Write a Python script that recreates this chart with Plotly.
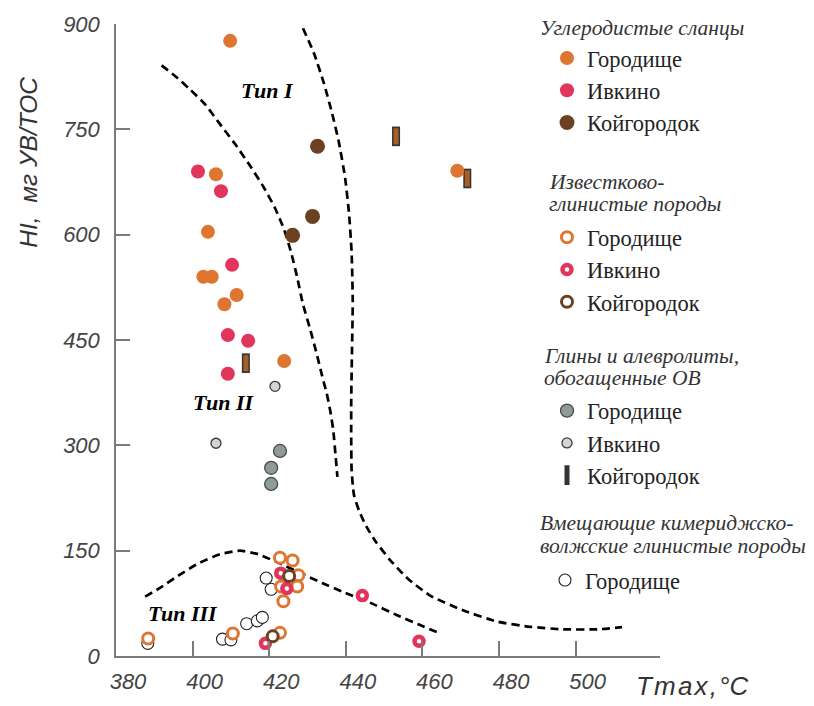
import plotly.graph_objects as go

# ---------------- data (Tmax, °C ; HI, mg HC/g TOC) ----------------
# Углеродистые сланцы
shale_gor_x = [409.8, 406.1, 404.0, 402.8, 405.0, 411.5, 408.3, 423.9, 469.1]
shale_gor_y = [876, 686, 604, 540, 540, 514, 501, 420, 691]
shale_ivk_x = [401.4, 407.4, 410.3, 409.2, 414.5, 409.2]
shale_ivk_y = [690, 662, 557, 457, 449, 402]
shale_koy_x = [432.6, 431.3, 426.1]
shale_koy_y = [726, 626, 599]

# Известково-глинистые породы
calc_gor_x = [388.4, 410.5, 422.8, 422.8, 426.1, 427.6, 423.1, 427.3, 423.7]
calc_gor_y = [25, 32, 33, 140, 136, 115, 99, 99, 78]
calc_ivk_x = [419.0, 423.0, 424.6, 444.3, 459.1]
calc_ivk_y = [18, 118, 96, 86, 21]
calc_koy_x = [420.9, 425.2]
calc_koy_y = [28, 114]

# Глины и алевролиты, обогащенные ОВ
clay_gor_x = [422.8, 420.5, 420.5]
clay_gor_y = [292, 268, 245]
clay_ivk_x = [421.5, 406.1]
clay_ivk_y = [384, 303]
clay_koy_x = [413.9, 453.1, 471.7]
clay_koy_y = [417, 740, 680]

# Вмещающие кимериджско-волжские глинистые породы
host_gor_x = [388.3, 407.8, 410.0, 414.1, 416.9, 418.2, 419.2, 420.5]
host_gor_y = [18, 24, 23, 46, 50, 55, 111, 95]

# Boundary curves of kerogen types
curveA_x = [391.9, 395.4, 399.3, 403.2, 407.2, 411.1, 415.0, 418.4, 421.5, 423.9, 425.7,
            427.3, 428.8, 430.7, 432.4, 433.8, 435.0, 435.9, 436.7, 437.3, 437.8]
curveA_y = [841, 826, 807, 786, 757, 729, 698, 669, 638, 607, 575,
            539, 501, 465, 430, 399, 374, 350, 322, 286, 255]
curveB_x = [428.8, 431.7, 434.3, 436.4, 438.2, 439.8, 440.8, 441.5, 441.8, 441.6, 441.4,
            441.4, 441.5, 442.1, 443.5, 445.3, 447.9, 451.5, 456.2, 462.0, 470.6,
            479.5, 488.1, 496.7, 505.6, 512.1]
curveB_y = [894, 858, 815, 773, 731, 681, 632, 575, 505, 434, 364,
            307, 265, 230, 206, 185, 162, 137, 110, 86, 65,
            49, 41.6, 38, 38, 41]
curveC_x = [387.6, 391.5, 396.7, 401.9, 407.2, 412.4, 417.1, 422.3, 428.0, 433.8,
            439.8, 446.3, 453.4, 459.4, 463.8]
curveC_y = [84.6, 97, 116, 133, 145, 150, 145, 133, 118.5, 104,
            90, 76, 58, 44, 34]

type_labels = ["<b><i>Тип I</i></b>", "<b><i>Тип II</i></b>", "<b><i>Тип III</i></b>"]
type_x = [419.6, 408.1, 397.4]
type_y = [805, 361, 60]

x_ticks = [380, 400, 420, 440, 460, 480, 500]
y_ticks = [0, 150, 300, 450, 600, 750, 900]

group_titles = ["Углеродистые сланцы", "Известково-", "глинистые породы",
                "Глины и алевролиты,", "обогащенные ОВ",
                "Вмещающие кимериджско-", "волжские глинистые породы"]

# ---------------- styles ----------------
ORANGE = "#DE7632"
PINK = "#E2355C"
BROWN = "#6B4122"
SANS = "Liberation Sans"
SERIF = "Liberation Serif"

fig = go.Figure()

dash_line = dict(color="black", width=2.7, dash="8px,5px", shape="spline", smoothing=0.5)
for cx, cy in [(curveA_x, curveA_y), (curveB_x, curveB_y), (curveC_x, curveC_y)]:
    fig.add_trace(go.Scatter(x=cx, y=cy, mode="lines", line=dash_line,
                             showlegend=False, hoverinfo="skip"))

def pts(x, y, name, legend, marker, showlegend=True):
    fig.add_trace(go.Scatter(x=x, y=y, mode="markers", name=name, legend=legend,
                             marker=marker, showlegend=showlegend, cliponaxis=False))

# host rocks (drawn first, underneath)
pts(host_gor_x, host_gor_y, "Городище", "legend4",
    dict(symbol="circle", size=12, color="white", line=dict(color="#222", width=1.1)))

# calcareous-clay rocks
pts(calc_gor_x, calc_gor_y, "Городище", "legend2",
    dict(symbol="circle", size=11, color="white", line=dict(color=ORANGE, width=3)))
pts(calc_ivk_x, calc_ivk_y, "Ивкино", "legend2",
    dict(symbol="circle", size=9, color="white", line=dict(color=PINK, width=4.5)))
pts(calc_koy_x, calc_koy_y, "Койгородок", "legend2",
    dict(symbol="circle", size=11, color="white", line=dict(color=BROWN, width=3)))

# clays and siltstones
pts(clay_gor_x, clay_gor_y, "Городище", "legend3",
    dict(symbol="circle", size=13, color="#8E9B99", line=dict(color="#4A4A4A", width=1.3)))
pts(clay_ivk_x, clay_ivk_y, "Ивкино", "legend3",
    dict(symbol="circle", size=10, color="#D4D4D4", line=dict(color="#3A3A3A", width=1.3)))
pts(clay_koy_x, clay_koy_y, "Койгородок", "legend3",
    dict(symbol="line-ns-open", size=14, color="#333333", line=dict(color="#333333", width=8)))
pts(clay_koy_x, clay_koy_y, "Койгородок", "legend3",
    dict(symbol="line-ns-open", size=11.5, color="#A95E28", line=dict(color="#A95E28", width=5)),
    showlegend=False)

# carbonaceous shales
pts(shale_gor_x, shale_gor_y, "Городище", "legend",
    dict(symbol="circle", size=14, color=ORANGE, line=dict(width=0)))
pts(shale_ivk_x, shale_ivk_y, "Ивкино", "legend",
    dict(symbol="circle", size=14, color=PINK, line=dict(width=0)))
pts(shale_koy_x, shale_koy_y, "Койгородок", "legend",
    dict(symbol="circle", size=15, color=BROWN, line=dict(width=0)))

for t, x, y in zip(type_labels, type_x, type_y):
    fig.add_annotation(x=x, y=y, xref="x", yref="y", text=t, showarrow=False,
                       font=dict(family=SERIF, size=22, color="black"))

L, T, PW, PH = 116, 20, 544, 638

def px2paper(px, py):
    return (px - L) / PW, (T + PH - py) / PH

# axis titles
ax_x, ax_y = px2paper(29, 160)
fig.add_annotation(x=ax_x, y=ax_y, xref="paper", yref="paper", xanchor="center", yanchor="middle",
                   text="<i>HI,\u00a0 мг УВ/ТОС</i>", textangle=-90, showarrow=False,
                   font=dict(family=SANS, size=24.5, color="#333"))
tx_x, tx_y = px2paper(692, 688)
fig.add_annotation(x=tx_x, y=tx_y, xref="paper", yref="paper", xanchor="center", yanchor="middle",
                   text="<i>T\u200am\u200aa\u200ax\u200a,\u200a°C</i>", showarrow=False,
                   font=dict(family=SANS, size=26, color="#333"))

# legend group titles
title_pos = [(538, 24), (547, 180), (547, 202), (542, 355), (542, 377), (538, 524), (538, 547)]
for t, (px, py) in zip(group_titles, title_pos):
    gx, gy = px2paper(px, py)
    fig.add_annotation(x=gx, y=gy, xref="paper", yref="paper", xanchor="left", yanchor="middle",
                       text="<i>" + t + "</i>", showarrow=False,
                       font=dict(family=SERIF, size=21.5, color="#333"))

axis_common = dict(showline=True, linecolor="#7A7A7A", linewidth=1.5, ticks="inside",
                   tickcolor="#7A7A7A", tickwidth=1.5, showgrid=False, zeroline=False,
                   tickfont=dict(family=SANS, size=22, color="#444", style="italic"))

fig.update_xaxes(range=[380, 522], tickvals=x_ticks, ticklen=15, ticklabelshift=12,
                 ticklabelstandoff=5, **axis_common)
fig.update_yaxes(range=[0, 900], tickvals=y_ticks, ticklen=14, ticklabelstandoff=10,
                 **axis_common)

def legend_box(marker_px, first_item_py):
    x, y = px2paper(marker_px - 20, first_item_py - 21)
    return dict(x=x, y=y, xanchor="left", yanchor="top", bgcolor="rgba(0,0,0,0)",
                borderwidth=0, font=dict(family=SERIF, size=22.5, color="#222"))

fig.update_layout(
    width=814, height=706,
    margin=dict(l=L, r=814 - L - PW, t=T, b=706 - T - PH),
    plot_bgcolor="white", paper_bgcolor="white",
    legend=legend_box(567, 54),
    legend2=legend_box(567, 235),
    legend3=legend_box(567, 410),
    legend4=legend_box(565, 581),
)

fig.write_html("out.html")
